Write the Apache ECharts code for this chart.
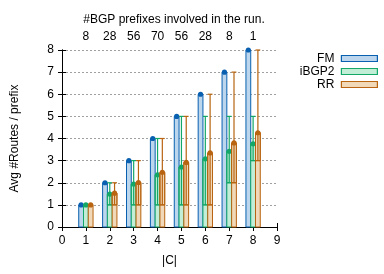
<!DOCTYPE html>
<html lang="en">
<head>
    <meta charset="UTF-8">
    <title>Avg routes per prefix</title>
    <script src="https://cdn.jsdelivr.net/npm/echarts@6/dist/echarts.min.js"></script>
    <style>
        html, body { margin: 0; padding: 0; background: #fff; }
        #chart { width: 384px; height: 274px; }
    </style>
</head>
<body>
<div id="chart"></div>
<script type="text/javascript">
    // |C| values and the top axis labels
    var sizes = [1, 2, 3, 4, 5, 6, 7, 8];
    var prefixCounts = ['8', '28', '56', '70', '56', '28', '8', '1'];

    // mean values per series
    var fmMean = [1, 2, 3, 4, 5, 6, 7, 8];
    var ibgpMean = [1.0, 1.49, 1.94, 2.36, 2.71, 3.08, 3.42, 3.76];
    var rrMean = [1.0, 1.53, 2.01, 2.47, 2.92, 3.35, 3.80, 4.26];

    // min / max (error bars)
    var ibgpLow = [1, 1, 1, 1, 1, 1, 2, 3];
    var ibgpHigh = [1, 2, 3, 4, 5, 5, 5, 5];
    var rrLow = [1, 1, 1, 1, 1, 1, 2, 3];
    var rrHigh = [1, 2, 3, 4, 5, 6, 7, 8];

    var font = 'Liberation Sans, Arial, sans-serif';
    var barW = 0.2;

    function makeData(mean, low, high) {
        var out = [];
        for (var i = 0; i < sizes.length; i++) {
            out.push([sizes[i], mean[i], low ? low[i] : mean[i], high ? high[i] : mean[i]]);
        }
        return out;
    }

    function barSeries(name, data, offset, line, fill, withErr) {
        return {
            name: name,
            type: 'custom',
            data: data,
            z: 3,
            renderItem: function (params, api) {
                var x = api.value(0), m = api.value(1), lo = api.value(2), hi = api.value(3);
                var p0 = api.coord([x + offset - barW / 2, 0]);
                var p1 = api.coord([x + offset + barW / 2, m]);
                var cx = api.coord([x + offset, 0])[0];
                var half = (p1[0] - p0[0]) / 2;
                var yLo = api.coord([x, lo])[1];
                var yHi = api.coord([x, hi])[1];
                var yM = p1[1];
                var kids = [{
                    type: 'rect',
                    shape: {x: p0[0], y: yM, width: p1[0] - p0[0], height: p0[1] - yM},
                    style: {fill: fill, stroke: line, lineWidth: 1, opacity: 1}
                }];
                if (withErr) {
                    kids.push({
                        type: 'rect',
                        shape: {x: p0[0], y: yM, width: p1[0] - p0[0], height: yLo - yM},
                        style: {fill: 'none', stroke: line, lineWidth: 1}
                    });
                    kids.push({type: 'line', shape: {x1: cx, y1: yLo, x2: cx, y2: yHi},
                        style: {stroke: line, lineWidth: 1.2}});
                    kids.push({type: 'line', shape: {x1: cx - half, y1: yLo, x2: cx + half, y2: yLo},
                        style: {stroke: line, lineWidth: 1.2}});
                    kids.push({type: 'line', shape: {x1: cx - half, y1: yHi, x2: cx + half, y2: yHi},
                        style: {stroke: line, lineWidth: 1.2}});
                }
                kids.push({type: 'circle', shape: {cx: cx, cy: yM, r: 2.6}, style: {fill: line}});
                return {type: 'group', children: kids};
            }
        };
    }

    var chart = echarts.init(document.getElementById('chart'));
    var option = {
        animation: false,
        title: {
            text: '#BGP prefixes involved in the run.',
            left: 169, top: 9, textAlign: 'center',
            textStyle: {fontFamily: font, fontSize: 12, fontWeight: 'normal', color: '#000'}
        },
        legend: {
            orient: 'vertical',
            right: 6, top: 52,
            align: 'right',
            padding: 0,
            itemWidth: 36, itemHeight: 6, itemGap: 0,
            textStyle: {fontFamily: font, fontSize: 12, color: '#000', padding: [0, 2, 0, 0], lineHeight: 13},
            data: [
                {name: 'FM', icon: 'rect', itemStyle: {color: '#bcd6ee', borderColor: '#0a60b0', borderWidth: 1.2}},
                {name: 'iBGP2', icon: 'rect', itemStyle: {color: '#c2eed8', borderColor: '#14a868', borderWidth: 1.2}},
                {name: 'RR', icon: 'rect', itemStyle: {color: '#f0d8b8', borderColor: '#b86410', borderWidth: 1.2}}
            ]
        },
        grid: {left: 62, right: 107, top: 50, bottom: 47},
        xAxis: [{
            type: 'value', min: 0, max: 9, interval: 1,
            name: '|C|', nameLocation: 'middle', nameGap: 28,
            nameTextStyle: {fontFamily: font, fontSize: 12, color: '#000'},
            axisLine: {lineStyle: {color: '#000', width: 1}},
            axisTick: {inside: true, length: 4, lineStyle: {color: '#000'}},
            axisLabel: {fontFamily: font, fontSize: 12, color: '#000', margin: 8},
            splitLine: {show: false}
        }, {
            type: 'value', min: 0, max: 9, interval: 1, position: 'top',
            axisLine: {show: true, lineStyle: {color: '#000', width: 1}},
            axisTick: {inside: true, length: 4, lineStyle: {color: '#000'}},
            axisLabel: {
                fontFamily: font, fontSize: 12, color: '#000', margin: 7,
                formatter: function (v) { return prefixCounts[v - 1] || ''; }
            },
            splitLine: {show: false}
        }],
        yAxis: [{
            type: 'value', min: 0, max: 8, interval: 1,
            name: 'Avg #Routes / prefix', nameLocation: 'middle', nameGap: 41,
            nameTextStyle: {fontFamily: font, fontSize: 12, color: '#000'},
            axisLine: {show: true, lineStyle: {color: '#000', width: 1}},
            axisTick: {show: true, inside: true, length: 4, lineStyle: {color: '#000'}},
            axisLabel: {fontFamily: font, fontSize: 12, color: '#000', margin: 8},
            splitLine: {show: true, lineStyle: {color: '#a0a0a0', type: [2, 2], width: 1}}
        }, {
            type: 'value', min: 0, max: 8, interval: 1, position: 'right',
            axisLine: {show: true, lineStyle: {color: '#000', width: 1}},
            axisTick: {show: true, inside: true, length: 4, lineStyle: {color: '#000'}},
            axisLabel: {show: false},
            splitLine: {show: false}
        }],
        series: [
            barSeries('FM', makeData(fmMean), -0.2, '#0a60b0', '#bcd6ee', false),
            barSeries('iBGP2', makeData(ibgpMean, ibgpLow, ibgpHigh), 0, '#14a868', '#c2eed8', true),
            barSeries('RR', makeData(rrMean, rrLow, rrHigh), 0.2, '#b86410', '#f0d8b8', true)
        ]
    };
    chart.setOption(option);
</script>
</body>
</html>
